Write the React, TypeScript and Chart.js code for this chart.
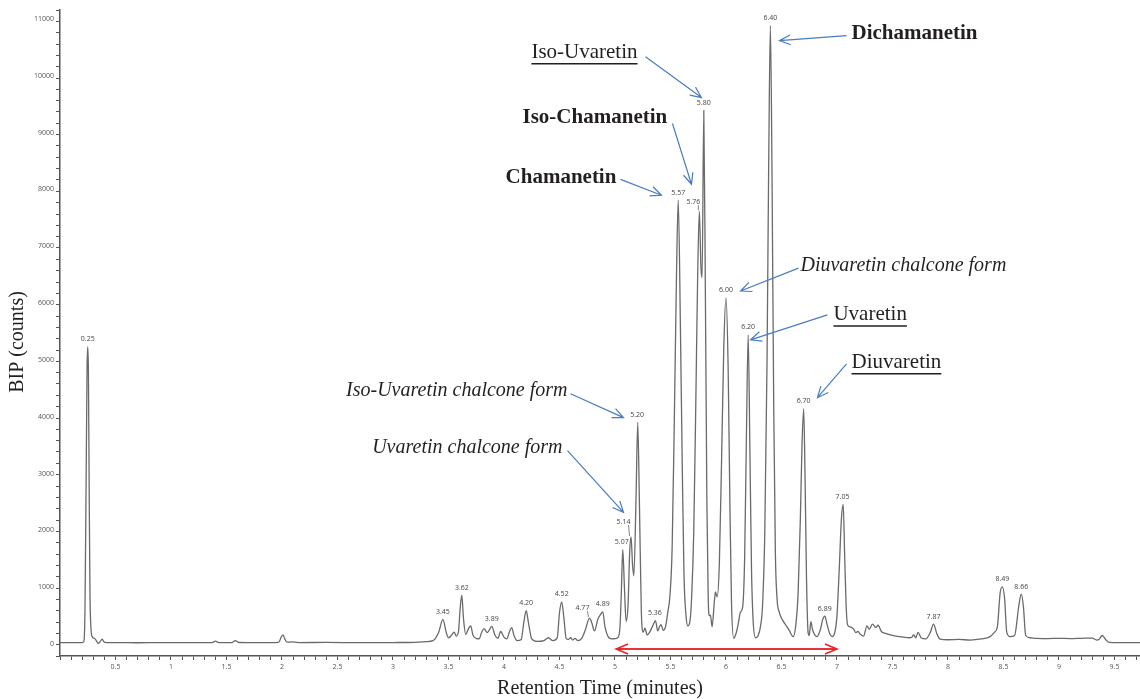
import React, { useEffect, useRef } from 'react';
import { Chart, registerables } from 'chart.js';
Chart.register(...registerables);

// Retention time (min), BIP counts
const earlyTrace: [number, number][] = [
  [0, 25], [0.1, 24], [0.2, 25], [0.215, 45], [0.225, 600], [0.235, 2800], [0.244, 4900], [0.25, 5230],
  [0.256, 4800], [0.263, 2700], [0.27, 900], [0.28, 250], [0.29, 130], [0.31, 100], [0.33, 50], [0.345, 10],
  [0.36, 35], [0.38, 85], [0.395, 40], [0.42, 25], [0.5, 24], [0.7, 22], [0.9, 24], [1.1, 23], [1.3, 24],
  [1.37, 24], [1.4, 50], [1.43, 25], [1.55, 25], [1.58, 60], [1.61, 27], [1.8, 24], [1.97, 30], [1.995, 130],
  [2.01, 160], [2.025, 90], [2.045, 32], [2.08, 38], [2.15, 26], [2.4, 28], [2.7, 24], [3.0, 26], [3.2, 30], [3.3, 42],
];

const midTrace: [number, number][] = [
  [3.36, 60], [3.41, 200], [3.45, 433], [3.48, 200], [3.5, 110], [3.53, 160], [3.55, 210], [3.57, 140],
  [3.59, 220], [3.605, 620], [3.62, 860], [3.635, 450], [3.655, 170], [3.68, 270], [3.7, 320], [3.72, 160],
  [3.75, 100], [3.775, 90], [3.8, 210], [3.82, 270], [3.85, 200], [3.89, 310], [3.92, 150], [3.945, 100],
  [3.97, 220], [4.0, 120], [4.025, 90], [4.05, 220], [4.07, 290], [4.09, 150], [4.12, 60], [4.155, 80],
  [4.18, 400], [4.2, 585], [4.22, 380], [4.25, 90], [4.3, 45], [4.36, 60], [4.4, 110], [4.44, 60], [4.48, 110],
  [4.5, 550], [4.52, 742], [4.54, 450], [4.56, 100], [4.58, 80], [4.6, 110], [4.62, 70], [4.64, 100], [4.665, 60],
  [4.7, 100], [4.735, 260], [4.77, 456], [4.79, 380], [4.815, 230], [4.845, 430], [4.87, 520], [4.89, 567],
  [4.91, 300], [4.935, 140], [4.97, 90], [5.0, 95],
];

const mainTrace: [number, number][] = [
  [5.025, 110], [5.045, 300], [5.057, 900], [5.07, 1662], [5.085, 1000], [5.1, 400], [5.118, 700], [5.132, 1600],
  [5.145, 1883], [5.158, 1400], [5.17, 1200], [5.19, 2600], [5.205, 3901], [5.22, 2500], [5.237, 600], [5.255, 210],
  [5.27, 280], [5.29, 160], [5.31, 200], [5.34, 320], [5.365, 409], [5.385, 230], [5.4, 300], [5.415, 340],
  [5.435, 240], [5.455, 300], [5.475, 550], [5.495, 850], [5.515, 1700], [5.535, 4000], [5.555, 6600], [5.57, 7810],
  [5.59, 5500], [5.607, 3000], [5.622, 1200], [5.64, 500], [5.656, 320], [5.675, 400], [5.69, 800], [5.71, 2000],
  [5.73, 4500], [5.745, 6500], [5.76, 7617], [5.775, 6600], [5.785, 6450], [5.8, 9390], [5.815, 6000], [5.828, 2500],
  [5.84, 800], [5.85, 500], [5.86, 509], [5.875, 304], [5.895, 740], [5.905, 918], [5.92, 830], [5.94, 1400],
  [5.96, 3200], [5.98, 5200], [6.0, 6090], [6.02, 4800], [6.035, 2500], [6.05, 700], [6.07, 100], [6.09, 180],
  [6.11, 350], [6.13, 560], [6.15, 650], [6.168, 1500], [6.183, 3500], [6.2, 5440], [6.215, 3500], [6.23, 1300],
  [6.245, 400], [6.266, 110], [6.29, 150], [6.31, 300], [6.33, 700], [6.35, 2000], [6.37, 5000], [6.385, 8500],
  [6.4, 10881], [6.415, 8200], [6.43, 4200], [6.445, 1600], [6.46, 800], [6.48, 560], [6.51, 420], [6.54, 330],
  [6.57, 240], [6.605, 130], [6.63, 350], [6.65, 900], [6.67, 2200], [6.685, 3500], [6.7, 4142], [6.712, 3000],
  [6.725, 1200], [6.74, 200], [6.75, 150], [6.765, 392], [6.78, 250], [6.82, 130], [6.85, 250], [6.87, 420],
  [6.89, 491], [6.91, 350], [6.935, 180], [6.957, 130], [6.98, 200], [7.0, 500], [7.02, 1300], [7.04, 2200],
  [7.056, 2457], [7.07, 1500], [7.082, 700], [7.095, 340],
];

const lateTrace: [number, number][] = [
  [7.12, 300], [7.15, 263], [7.17, 200], [7.19, 220], [7.21, 170], [7.24, 140], [7.27, 320], [7.29, 260],
  [7.32, 350], [7.35, 290], [7.37, 330], [7.4, 220], [7.43, 190], [7.48, 160], [7.53, 140], [7.6, 120],
  [7.65, 110], [7.675, 120], [7.69, 165], [7.71, 110], [7.73, 205], [7.76, 105], [7.8, 90], [7.84, 200],
  [7.87, 351], [7.9, 180], [7.93, 85], [8.0, 75], [8.1, 80], [8.2, 70], [8.3, 90], [8.38, 130], [8.42, 210],
  [8.445, 300], [8.47, 900], [8.49, 1006], [8.51, 800], [8.53, 200], [8.56, 130], [8.6, 150], [8.64, 700],
  [8.66, 877], [8.68, 650], [8.7, 150], [8.74, 110], [8.8, 100], [8.9, 95], [9.0, 100], [9.1, 95], [9.2, 100],
  [9.3, 105], [9.34, 70], [9.36, 80], [9.39, 150], [9.42, 80], [9.45, 30], [9.55, 25], [9.65, 25], [9.73, 25],
];

const peakLabelTimes = [0.25, 3.45, 3.62, 3.89, 4.2, 4.52, 4.77, 4.89, 5.07, 5.14, 5.2, 5.36, 5.57, 5.76, 5.8,
  6.0, 6.2, 6.4, 6.7, 6.89, 7.05, 7.87, 8.49, 8.66];

const yTickLabels = [0, 1000, 2000, 3000, 4000, 5000, 6000, 7000, 8000, 9000, 10000, 11000];

const xAxisTitle = 'Retention Time (minutes)';
const yAxisTitle = 'BIP (counts)';

// compound annotations: text anchor and arrow in data coordinates (t, counts)
type Ann = { text: string; style: 'bold' | 'italic' | 'under'; align: 'left' | 'right'; at: [number, number]; from: [number, number]; to: [number, number] };
const annotations: Ann[] = [
  { text: 'Iso-Uvaretin', style: 'under', align: 'left', at: [4.247, 10407], from: [5.275, 10337], to: [5.779, 9617] },
  { text: 'Iso-Chamanetin', style: 'bold', align: 'left', at: [4.167, 9266], from: [5.518, 9161], to: [5.689, 8091] },
  { text: 'Chamanetin', style: 'bold', align: 'left', at: [4.014, 8213], from: [5.05, 8178], to: [5.419, 7898] },
  { text: 'Dichamanetin', style: 'bold', align: 'left', at: [7.131, 10741], from: [7.086, 10706], to: [6.482, 10618] },
  { text: 'Diuvaretin chalcone form', style: 'italic', align: 'left', at: [6.671, 6651], from: [6.653, 6616], to: [6.131, 6213] },
  { text: 'Uvaretin', style: 'under', align: 'left', at: [6.968, 5792], from: [6.914, 5792], to: [6.221, 5353] },
  { text: 'Diuvaretin', style: 'under', align: 'left', at: [7.131, 4949], from: [7.086, 4932], to: [6.824, 4335] },
  { text: 'Iso-Uvaretin chalcone form', style: 'italic', align: 'right', at: [4.572, 4458], from: [4.599, 4405], to: [5.077, 3984] },
  { text: 'Uvaretin chalcone form', style: 'italic', align: 'right', at: [4.527, 3457], from: [4.572, 3405], to: [5.077, 2317] },
];

const rangeArrow: [number, number, number] = [5.01, 7.0, -88];

const labelShift: Record<string, { dx: number; dy: number; leader?: boolean }> = {
  '4.77': { dx: -7, dy: -3, leader: true },
  '5.14': { dx: -7, dy: -8, leader: true },
  '5.07': { dx: -1, dy: 0 },
  '5.76': { dx: -6, dy: -2, leader: true },
};

const SERIF = '"Liberation Serif", "Times New Roman", serif';
const SANS = '"Open Sans", "DejaVu Sans", sans-serif';

function openArrow(ctx: CanvasRenderingContext2D, x1: number, y1: number, x2: number, y2: number, len: number, ang: number) {
  const a = Math.atan2(y2 - y1, x2 - x1);
  ctx.beginPath();
  ctx.moveTo(x1, y1);
  ctx.lineTo(x2, y2);
  ctx.moveTo(x2 - len * Math.cos(a - ang), y2 - len * Math.sin(a - ang));
  ctx.lineTo(x2, y2);
  ctx.lineTo(x2 - len * Math.cos(a + ang), y2 - len * Math.sin(a + ang));
  ctx.stroke();
}

export default function App() {
  const ref = useRef<HTMLCanvasElement>(null);
  useEffect(() => {
    document.body.style.margin = '0';
    const allPts = [...earlyTrace, ...midTrace, ...mainTrace, ...lateTrace];
    const data = allPts.map(([x, y]) => ({ x, y }));

    const overlay = {
      id: 'overlay',
      afterDatasetsDraw(chart: any) {
        const ctx: CanvasRenderingContext2D = chart.ctx;
        const xs = chart.scales.x;
        const ys = chart.scales.y;
        ctx.save();
        // peak labels
        ctx.font = `7px ${SANS}`;
        ctx.fillStyle = '#444';
        ctx.textAlign = 'center';
        ctx.textBaseline = 'bottom';
        ctx.strokeStyle = '#666';
        ctx.lineWidth = 0.8;
        for (const t of peakLabelTimes) {
          let best = 0;
          for (const [x, y] of allPts) if (Math.abs(x - t) <= 0.0151 && y > best) best = y;
          const px = xs.getPixelForValue(t);
          const py = ys.getPixelForValue(best);
          const key = t.toFixed(2);
          const sh = labelShift[key] || { dx: 0, dy: 0 };
          ctx.fillText(key, px + sh.dx, py - 4 + sh.dy);
          if (sh.leader) {
            ctx.beginPath();
            ctx.moveTo(px + sh.dx + 5, py - 4 + sh.dy);
            ctx.lineTo(px - 1, py - 1);
            ctx.stroke();
          }
        }
        // annotations
        for (const a of annotations) {
          const weight = a.style === 'bold' ? 'bold ' : a.style === 'italic' ? 'italic ' : '';
          const size = a.style === 'italic' ? 20 : 21;
          ctx.font = `${weight}${size}px ${SERIF}`;
          ctx.fillStyle = '#231f20';
          ctx.textAlign = a.align;
          ctx.textBaseline = 'middle';
          const tx = xs.getPixelForValue(a.at[0]);
          const ty = ys.getPixelForValue(a.at[1]);
          ctx.fillText(a.text, tx, ty);
          if (a.style === 'under') {
            const w = ctx.measureText(a.text).width;
            ctx.strokeStyle = '#231f20';
            ctx.lineWidth = 1.5;
            ctx.beginPath();
            const x0 = a.align === 'left' ? tx : tx - w;
            ctx.moveTo(x0, ty + 11);
            ctx.lineTo(x0 + w, ty + 11);
            ctx.stroke();
          }
          ctx.strokeStyle = '#4a7cc0';
          ctx.lineWidth = 1.2;
          openArrow(ctx, xs.getPixelForValue(a.from[0]), ys.getPixelForValue(a.from[1]),
            xs.getPixelForValue(a.to[0]), ys.getPixelForValue(a.to[1]), 12, 0.42);
        }
        // red range arrow
        const rx1 = xs.getPixelForValue(rangeArrow[0]);
        const rx2 = xs.getPixelForValue(rangeArrow[1]);
        const ry = ys.getPixelForValue(rangeArrow[2]);
        ctx.strokeStyle = '#e8262a';
        ctx.lineWidth = 1.6;
        openArrow(ctx, rx1, ry, rx2, ry, 13, 0.4);
        openArrow(ctx, rx2, ry, rx1, ry, 13, 0.4);
        ctx.restore();
      },
      afterDraw(chart: any) {
        const ctx: CanvasRenderingContext2D = chart.ctx;
        const ca = chart.chartArea;
        const ys = chart.scales.y;
        ctx.save();
        // y tick labels
        ctx.font = `7px ${SANS}`;
        ctx.fillStyle = '#555';
        ctx.textAlign = 'right';
        ctx.textBaseline = 'middle';
        for (const v of yTickLabels) ctx.fillText(String(v), ca.left - 6, ys.getPixelForValue(v));
        // axis titles
        ctx.fillStyle = '#231f20';
        ctx.font = `20px ${SERIF}`;
        ctx.textAlign = 'center';
        ctx.textBaseline = 'middle';
        ctx.fillText(xAxisTitle, (ca.left + ca.right) / 2, 689);
        ctx.translate(18, 342);
        ctx.rotate(-Math.PI / 2);
        ctx.fillText(yAxisTitle, 0, 0);
        ctx.restore();
      },
    };

    const tickFont = { size: 7, family: SANS };
    const chart = new Chart(ref.current as HTMLCanvasElement, {
      type: 'line',
      data: {
        datasets: [{
          data,
          borderColor: '#6a6a6a',
          borderWidth: 1.3,
          pointRadius: 0,
          cubicInterpolationMode: 'monotone',
          fill: false,
        }],
      },
      options: {
        animation: false,
        responsive: false,
        layout: { padding: { top: 10, right: 0, left: 0, bottom: 0 } },
        plugins: { legend: { display: false }, tooltip: { enabled: false } },
        scales: {
          x: {
            type: 'linear',
            min: 0,
            max: 9.73,
            afterFit: (s: any) => { s.height = 43; },
            grid: { drawOnChartArea: false, drawTicks: true, tickLength: 4, color: '#555', lineWidth: 1 },
            border: { color: '#555', width: 1.5 },
            ticks: {
              stepSize: 0.1,
              autoSkip: false,
              maxRotation: 0,
              includeBounds: false,
              padding: 3,
              font: tickFont,
              color: '#555',
              callback: (v: any) => {
                const n = Number(v);
                if (n <= 0) return '';
                return Math.abs(n * 2 - Math.round(n * 2)) < 1e-6 ? String(Math.round(n * 2) / 2) : '';
              },
            },
          },
          y: {
            type: 'linear',
            min: -211,
            max: 11158,
            afterFit: (s: any) => { s.width = 60; },
            grid: { drawOnChartArea: false, drawTicks: true, tickLength: 4, color: '#555', lineWidth: 1 },
            border: { color: '#555', width: 1.5 },
            ticks: {
              stepSize: 200,
              autoSkip: false,
              includeBounds: false,
              padding: 2,
              font: tickFont,
              color: '#555',
              callback: () => '',
            },
          },
        },
      },
      plugins: [overlay],
    } as any);
    return () => chart.destroy();
  }, []);
  return <canvas ref={ref} width={1140} height={699} style={{ display: 'block' }} />;
}
